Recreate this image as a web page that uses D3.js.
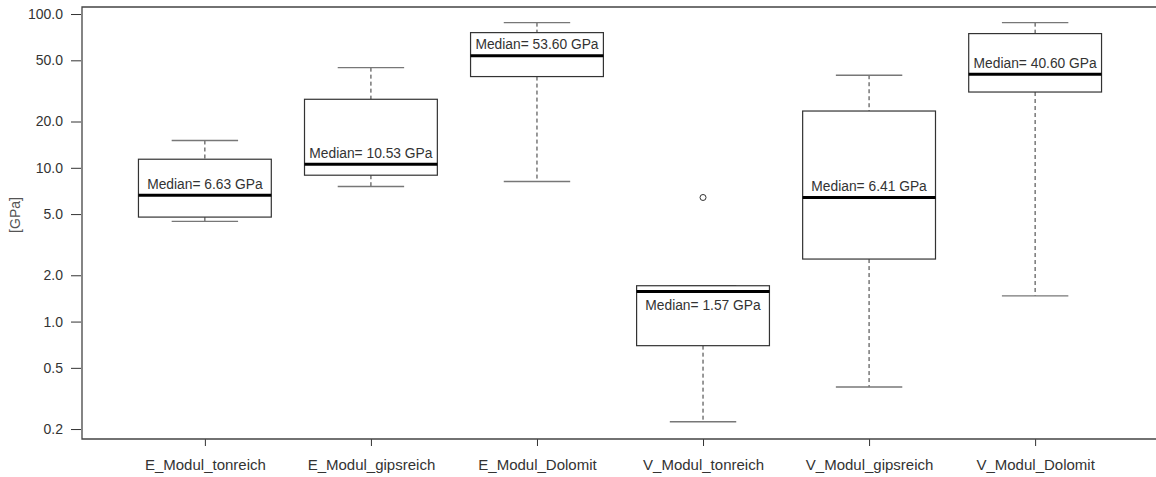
<!DOCTYPE html>
<html>
<head>
<meta charset="utf-8">
<script src="https://cdn.jsdelivr.net/npm/d3@7"></script>
<style>
  body { margin: 0; background: #fff; }
  text { font-family: Arial, "Liberation Sans", sans-serif; fill: #333; }
</style>
</head>
<body>
<div id="main"></div>
<script>
// box statistics, GPa
let categories = ["E_Modul_tonreich", "E_Modul_gipsreich", "E_Modul_Dolomit",
                  "V_Modul_tonreich", "V_Modul_gipsreich", "V_Modul_Dolomit"]
let whiskerLow  = [4.48, 7.56, 8.15, 0.223, 0.375, 1.47]
let q1          = [4.78, 8.95, 39.2, 0.697, 2.55, 31.1]
let medians     = [6.63, 10.53, 53.60, 1.57, 6.41, 40.60]
let q3          = [11.37, 27.9, 75.7, 1.71, 23.4, 74.6]
let whiskerHigh = [15.05, 44.8, 87.9, 1.71, 40.0, 87.9]
let outliers    = [[], [], [], [6.41], [], []]
let yTicks = [0.2, 0.5, 1, 2, 5, 10, 20, 50, 100]

let W = 1156, H = 477
let plot = {left: 82, top: 7, right: 1158, bottom: 439}

let svg = d3.select("#main").append("svg")
    .attr("width", W)
    .attr("height", H)

let x = d3.scaleLinear()
    .domain([0.26, 6.74])
    .range([plot.left, plot.right])

let y = d3.scaleLog()
    .domain([0.1723, 111.1])
    .range([plot.bottom, plot.top])

let boxW = (x(1) - x(0)) * 0.8
let capW = boxW * 0.5

let data = categories.map((c, i) => ({
    name: c, pos: i + 1,
    lo: whiskerLow[i], q1: q1[i], med: medians[i], q3: q3[i], hi: whiskerHigh[i],
    out: outliers[i]
}))

// axes
svg.append("g")
    .attr("transform", "translate(" + (plot.left - 1) + ",0)")
    .call(d3.axisLeft(y).tickValues(yTicks).tickFormat(d3.format(".1f")).tickSize(10).tickPadding(8))
    .call(g => g.select(".domain").remove())
    .call(g => g.selectAll("line").attr("stroke", "#333"))
    .call(g => g.selectAll("text").attr("font-size", "14px").style("fill", "#333"))

svg.append("g")
    .attr("transform", "translate(0," + plot.bottom + ")")
    .call(d3.axisBottom(x).tickValues(data.map(d => d.pos)).tickFormat((d, i) => categories[i]).tickSize(7).tickPadding(13))
    .call(g => g.select(".domain").remove())
    .call(g => g.selectAll("line").attr("stroke", "#333"))
    .call(g => g.selectAll("text").attr("font-size", "15px").style("fill", "#333"))

// frame (right edge falls outside the window)
svg.append("path")
    .attr("d", "M" + plot.right + "," + plot.top + "H" + plot.left + "V" + plot.bottom + "H" + plot.right)
    .attr("fill", "none")
    .attr("stroke", "#444")
    .attr("stroke-width", 1.3)

svg.append("text")
    .attr("transform", "translate(20,215) rotate(-90)")
    .attr("text-anchor", "middle")
    .attr("font-size", "14px")
    .style("fill", "#555")
    .text("[GPa]")

let g = svg.selectAll("g.box")
    .data(data)
    .enter()
    .append("g")
    .attr("class", "box")

// whiskers
g.append("line")
    .attr("x1", d => x(d.pos)).attr("x2", d => x(d.pos))
    .attr("y1", d => y(d.hi)).attr("y2", d => y(d.q3))
    .attr("stroke", "#333").attr("stroke-dasharray", "4,3")
g.append("line")
    .attr("x1", d => x(d.pos)).attr("x2", d => x(d.pos))
    .attr("y1", d => y(d.q1)).attr("y2", d => y(d.lo))
    .attr("stroke", "#333").attr("stroke-dasharray", "4,3")

// caps
g.selectAll("line.cap")
    .data(d => [[d.pos, d.hi], [d.pos, d.lo]])
    .enter()
    .append("line")
    .attr("class", "cap")
    .attr("x1", d => x(d[0]) - capW / 2).attr("x2", d => x(d[0]) + capW / 2)
    .attr("y1", d => y(d[1])).attr("y2", d => y(d[1]))
    .attr("stroke", "#777").attr("stroke-width", 1.4)

// boxes
g.append("rect")
    .attr("x", d => x(d.pos) - boxW / 2)
    .attr("y", d => y(d.q3))
    .attr("width", boxW)
    .attr("height", d => y(d.q1) - y(d.q3))
    .attr("fill", "#fff")
    .attr("stroke", "#333")
    .attr("stroke-width", 1.2)

// medians
g.append("line")
    .attr("x1", d => x(d.pos) - boxW / 2).attr("x2", d => x(d.pos) + boxW / 2)
    .attr("y1", d => y(d.med)).attr("y2", d => y(d.med))
    .attr("stroke", "#000").attr("stroke-width", 3)

// outliers
g.selectAll("circle")
    .data(d => d.out.map(v => [d.pos, v]))
    .enter()
    .append("circle")
    .attr("cx", d => x(d[0]))
    .attr("cy", d => y(d[1]))
    .attr("r", 3)
    .attr("fill", "none")
    .attr("stroke", "#333")

// median labels, put inside below the line when the box top is too close
g.append("text")
    .attr("x", d => x(d.pos))
    .attr("y", d => (y(d.med) - y(d.q3) < 16) ? y(d.med) + 19 : y(d.med) - 6.5)
    .attr("text-anchor", "middle")
    .attr("font-size", "13.8px")
    .text(d => "Median= " + d.med.toFixed(2) + " GPa")
</script>
</body>
</html>
